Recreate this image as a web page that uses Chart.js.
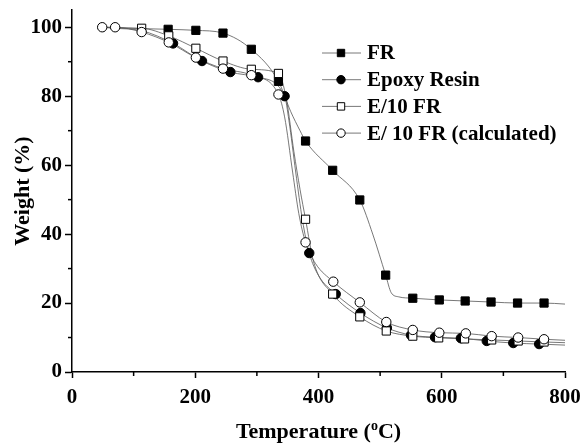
<!DOCTYPE html>
<html>
<head>
<meta charset="utf-8">
<script src="https://cdn.jsdelivr.net/npm/chart.js@4.4.0/dist/chart.umd.min.js"></script>
<style>
  html, body { margin: 0; padding: 0; background: #fff; }
  #wrap { width: 582px; height: 445px; }
</style>
</head>
<body>
<div id="wrap"><canvas id="tga"></canvas></div>
<script>
// Marker points [temperature, weight %]
const frMarks = [[156,99.4],[201,99.1],[245,98.3],[291,93.6],[335,84.3],[379,67.0],[423,58.5],[467,49.9],[509,28.1],[553,21.4],[596,20.9],[638,20.6],[680,20.3],[723,20.0],[766,20.0]];
const epoxyMarks = [[164,95.3],[211,90.2],[257,87.0],[302,85.5],[345,80.0],[385,34.5],[428,22.6],[468,17.1],[511,12.8],[550,10.7],[589,10.1],[631,9.8],[673,9.0],[716,8.4],[758,8.1]];
const e10Marks = [[113,99.7],[157,97.5],[201,93.9],[245,90.2],[291,87.8],[335,86.6],[379,44.3],[423,22.6],[467,16.0],[510,11.9],[553,10.4],[595,9.9],[637,9.6],[681,9.3],[724,9.0],[766,8.7]];
const calcMarks = [[49,100],[70,100],[113,98.6],[157,95.6],[201,91.2],[245,88.0],[291,86.1],[335,80.5],[379,37.6],[424,26.2],[467,20.2],[510,14.5],[553,12.2],[596,11.4],[639,11.2],[681,10.4],[724,10.0],[766,9.5]];

// Extra points along each curve (no marker drawn)
const frKnots = [[50,100],[70,99.9],[113,99.6],[355,75.5],[370,70],[488,40],[518,23],[530,21.8],[800,19.7]];
const epoxyKnots = [[50,100],[70,99.7],[113,99.0],[352,73],[363,58],[374,44],[400,28],[800,7.8]];
const e10Knots = [[50,100],[70,99.8],[348,79],[360,64],[370,53],[392,32],[800,8.5]];
const calcKnots = [[345,74],[358,58],[368,46],[395,31.5],[800,9.2]];

const seriesNames = ['FR', 'Epoxy Resin', 'E/10 FR', 'E/ 10 FR (calculated)'];
const pointStyles = ['rect', 'circle', 'rect', 'circle'];
const pointFills = ['#000', '#000', '#fff', '#fff'];

const xMinor = [100, 300, 500, 700];
const yMinor = [10, 30, 50, 70, 90];

const FONT = "'Liberation Serif', 'Times New Roman', serif";

const toXY = arr => arr.map(p => ({ x: p[0], y: p[1] }));
const curve = (marks, knots) => toXY([...marks, ...knots].sort((a, b) => a[0] - b[0]));

const allMarks = [frMarks, epoxyMarks, e10Marks, calcMarks];
const allKnots = [frKnots, epoxyKnots, e10Knots, calcKnots];

const datasets = [];
allMarks.forEach((m, i) => {
    datasets.push({
        label: seriesNames[i] + ' line',
        data: curve(m, allKnots[i]),
        borderColor: '#555',
        borderWidth: 0.8,
        pointRadius: 0,
        showLine: true,
        cubicInterpolationMode: 'monotone',
        order: 10
    });
});
allMarks.forEach((m, i) => {
    datasets.push({
        label: seriesNames[i],
        data: toXY(m),
        showLine: false,
        pointStyle: pointStyles[i],
        pointRadius: pointStyles[i] === 'rect' ? 5.8 : 4.7,
        pointBackgroundColor: pointFills[i],
        pointBorderColor: '#000',
        pointBorderWidth: 1,
        order: 4 - i
    });
});

// legend, minor ticks and x title drawn by hand
const decor = {
    id: 'decor',
    afterDraw(chart) {
        const ctx = chart.ctx;
        const { x, y } = chart.scales;
        const area = chart.chartArea;
        ctx.save();
        ctx.strokeStyle = '#000';
        ctx.lineWidth = 1.5;
        xMinor.forEach(v => {
            const px = x.getPixelForValue(v);
            ctx.beginPath(); ctx.moveTo(px, area.bottom); ctx.lineTo(px, area.bottom + 4); ctx.stroke();
        });
        yMinor.forEach(v => {
            const py = y.getPixelForValue(v);
            ctx.beginPath(); ctx.moveTo(area.left, py); ctx.lineTo(area.left - 4, py); ctx.stroke();
        });

        // legend
        ctx.font = 'bold 21px ' + FONT;
        ctx.textBaseline = 'middle';
        ctx.fillStyle = '#000';
        seriesNames.forEach((name, i) => {
            const ly = 53 + i * 26.7;
            ctx.strokeStyle = '#555';
            ctx.lineWidth = 0.8;
            ctx.beginPath(); ctx.moveTo(322, ly); ctx.lineTo(361, ly); ctx.stroke();
            ctx.strokeStyle = '#000';
            ctx.lineWidth = 1;
            ctx.fillStyle = pointFills[i];
            ctx.beginPath();
            if (pointStyles[i] === 'rect') ctx.rect(341 - 3.7, ly - 3.7, 7.4, 7.4);
            else ctx.arc(341, ly, 4.2, 0, Math.PI * 2);
            ctx.fill(); ctx.stroke();
            ctx.fillStyle = '#000';
            ctx.textAlign = 'left';
            ctx.fillText(name, 367, ly + 1);
        });

        // x axis title with superscript o
        const a = 'Temperature (', sup = 'o', b = 'C)';
        ctx.font = 'bold 22px ' + FONT;
        const wa = ctx.measureText(a).width, wb = ctx.measureText(b).width;
        ctx.font = 'bold 14px ' + FONT;
        const ws = ctx.measureText(sup).width;
        const cx = (area.left + area.right) / 2;
        let tx = cx - (wa + ws + wb) / 2;
        const ty = 438;
        ctx.textBaseline = 'alphabetic';
        ctx.textAlign = 'left';
        ctx.font = 'bold 22px ' + FONT;
        ctx.fillText(a, tx, ty);
        ctx.font = 'bold 14px ' + FONT;
        ctx.fillText(sup, tx + wa, ty - 8);
        ctx.font = 'bold 22px ' + FONT;
        ctx.fillText(b, tx + wa + ws, ty);
        ctx.restore();
    }
};

new Chart(document.getElementById('tga'), {
    type: 'scatter',
    data: { datasets },
    options: {
        responsive: true,
        maintainAspectRatio: false,
        animation: false,
        layout: { padding: { top: 10, right: 17, left: 0, bottom: 0 } },
        plugins: { legend: { display: false }, tooltip: { enabled: false } },
        scales: {
            x: {
                type: 'linear',
                min: 0, max: 800,
                afterFit: s => { s.height = 73; s.paddingLeft = 0; s.paddingRight = 0; },
                border: { color: '#000', width: 1.5 },
                grid: { drawOnChartArea: false, tickLength: 6, tickColor: '#000', tickWidth: 1.5 },
                ticks: { stepSize: 200, padding: 7, color: '#000', font: { family: FONT, size: 21, weight: 'bold' } }
            },
            y: {
                type: 'linear',
                min: 0, max: 105,
                afterFit: s => { s.width = 72; s.paddingTop = 0; s.paddingBottom = 0; },
                border: { color: '#000', width: 1.5 },
                grid: { drawOnChartArea: false, tickLength: 7, tickColor: '#000', tickWidth: 1.5 },
                ticks: { stepSize: 20, includeBounds: false, padding: 3, color: '#000', font: { family: FONT, size: 21, weight: 'bold' } },
                title: { display: true, text: 'Weight (%)', color: '#000', padding: { top: 10, bottom: 0 }, font: { family: FONT, size: 22, weight: 'bold' } }
            }
        }
    },
    plugins: [decor]
});
</script>
</body>
</html>
